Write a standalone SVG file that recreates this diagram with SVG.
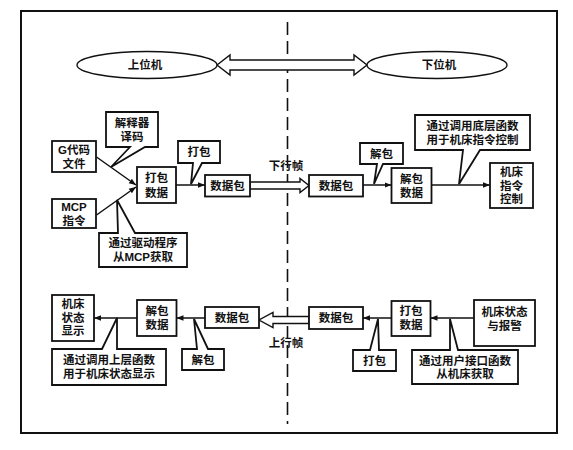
<svg xmlns="http://www.w3.org/2000/svg" width="573" height="450" viewBox="0 0 573 450">
<defs>
<style>
text{font-family:"Liberation Sans","Noto Sans CJK SC",sans-serif;font-size:11.5px;font-weight:bold;fill:#111;text-anchor:middle;dominant-baseline:central}
.box{fill:#fff;stroke:#111;stroke-width:1.8}
.ln{fill:none;stroke:#111;stroke-width:1.5}
.big{fill:#fff;stroke:#111;stroke-width:1.4}
</style>
<marker id="ah" viewBox="0 0 10 10" refX="10" refY="5" markerWidth="7" markerHeight="7" markerUnits="userSpaceOnUse" orient="auto">
<path d="M0,1 L10,5 L0,9 Z" fill="#111"/>
</marker>
</defs>
<rect x="21" y="11" width="536" height="422" fill="#fff" stroke="#111" stroke-width="2"/>
<line x1="287.5" y1="22" x2="287.5" y2="424" stroke="#111" stroke-width="1.6" stroke-dasharray="13 6"/>

<g id="connectors">
<path class="big" d="M217,65 L230,55 L230,60 L354,60 L354,55 L367,65 L354,75 L354,70 L230,70 L230,75 Z"/>
<path class="big" d="M250,182 L300,182 L300,178.5 L309,185.5 L300,192.5 L300,189 L250,189 Z"/>
<path class="big" d="M309,316.5 L273,316.5 L273,312.5 L259,320 L273,327.5 L273,323.5 L309,323.5 Z"/>
<line class="ln" x1="96.5" y1="157" x2="136" y2="185" marker-end="url(#ah)"/>
<line class="ln" x1="96.5" y1="215" x2="136" y2="187" marker-end="url(#ah)"/>
<line class="ln" x1="176" y1="185" x2="205" y2="185" marker-end="url(#ah)"/>
<line class="ln" x1="363" y1="185" x2="391.5" y2="185" marker-end="url(#ah)"/>
<line class="ln" x1="431.5" y1="185" x2="490" y2="185" marker-end="url(#ah)"/>
<line class="ln" x1="137" y1="318" x2="94" y2="318" marker-end="url(#ah)"/>
<line class="ln" x1="205" y1="318" x2="176.5" y2="318" marker-end="url(#ah)"/>
<line class="ln" x1="391.5" y1="318" x2="363" y2="318" marker-end="url(#ah)"/>
<line class="ln" x1="474" y1="318" x2="430.5" y2="318" marker-end="url(#ah)"/>
</g>

<g id="upper-host">
<ellipse cx="147" cy="65" rx="70" ry="13.5" fill="#fff" stroke="#111" stroke-width="1.4"/>
<text x="145" y="65" font-size="13">上位机</text>
</g>
<g id="lower-host">
<ellipse cx="437" cy="65" rx="70" ry="13.5" fill="#fff" stroke="#111" stroke-width="1.4"/>
<text x="439" y="65" font-size="13">下位机</text>
</g>

<g id="gcode"><rect class="box" x="52" y="141" width="44" height="31"/><text x="74" y="150">G代码</text><text x="74" y="164">文件</text></g>
<g id="mcp"><rect class="box" x="52" y="199" width="44" height="29"/><text x="74" y="207">MCP</text><text x="74" y="221">指令</text></g>
<g id="interp"><path class="box" d="M106,112 H158 V147 H145 L111,167 L130,147 H106 Z"/><text x="132" y="123">解释器</text><text x="132" y="137">译码</text></g>
<g id="drv"><path class="box" d="M99,233 H118 L117,200 L135,233 H187 V267 H99 Z"/><text x="143" y="243">通过驱动程序</text><text x="143" y="257">从MCP获取</text></g>
<g id="pack1"><rect class="box" x="137" y="167" width="39" height="36"/><text x="156.5" y="178">打包</text><text x="156.5" y="193">数据</text></g>
<g id="packlbl1"><path class="box" d="M178,141 H220 V163 H202 L191,184 L193,163 H178 Z"/><text x="199" y="152">打包</text></g>
<g id="pkt1"><rect class="box" x="205" y="175" width="45" height="21.5"/><text x="227.5" y="185.5">数据包</text></g>
<text x="286" y="166" font-size="11" font-weight="normal">下行帧</text>
<g id="pkt2"><rect class="box" x="309" y="175" width="54" height="21.5"/><text x="336" y="185.5">数据包</text></g>
<g id="unpacklbl1"><path class="box" d="M360,143 H403 V164 H383 L374,184 L377,164 H360 Z"/><text x="381.5" y="153.5">解包</text></g>
<g id="unpack1"><rect class="box" x="391.5" y="168" width="40" height="35"/><text x="411.5" y="178.5">解包</text><text x="411.5" y="193">数据</text></g>
<g id="lowfn"><path class="box" d="M415,115 H530 V150 H480 L459,184 L463,150 H415 Z"/><text x="472.5" y="126">通过调用底层函数</text><text x="472.5" y="140">用于机床指令控制</text></g>
<g id="ctrl"><rect class="box" x="490" y="163" width="43" height="45"/><text x="511.5" y="172">机床</text><text x="511.5" y="185.5">指令</text><text x="511.5" y="199">控制</text></g>

<g id="disp"><rect class="box" x="52" y="295" width="42" height="46"/><text x="73" y="304">机床</text><text x="73" y="317.5">状态</text><text x="73" y="331">显示</text></g>
<g id="unpack2"><rect class="box" x="137" y="300" width="39.5" height="36"/><text x="157" y="311">解包</text><text x="157" y="325">数据</text></g>
<g id="upfn"><path class="box" d="M52,349 H102 L117,318 V349 H166 V385 H52 Z"/><text x="109" y="360">通过调用上层函数</text><text x="109" y="374">用于机床状态显示</text></g>
<g id="pkt3"><rect class="box" x="205" y="307" width="54" height="21"/><text x="232" y="317.5">数据包</text></g>
<g id="unpacklbl2"><path class="box" d="M182,349 H197 L194,319 L208,349 H224 V370 H182 Z"/><text x="203" y="360">解包</text></g>
<text x="286" y="343" font-size="11" font-weight="normal">上行帧</text>
<g id="pkt4"><rect class="box" x="309" y="307" width="54" height="22"/><text x="336" y="318">数据包</text></g>
<g id="pack2"><rect class="box" x="391.5" y="301" width="39" height="35"/><text x="411" y="311">打包</text><text x="411" y="325">数据</text></g>
<g id="packlbl2"><path class="box" d="M353,350 H370 L378,319 L379,350 H396 V371 H353 Z"/><text x="374.5" y="360.5">打包</text></g>
<g id="userfn"><path class="box" d="M412,350 H450 L450,319 L458,350 H518 V384 H412 Z"/><text x="465" y="361">通过用户接口函数</text><text x="465" y="374">从机床获取</text></g>
<g id="status"><rect class="box" x="474" y="300" width="61" height="46"/><text x="504.5" y="312">机床状态</text><text x="504.5" y="326">与报警</text></g>
</svg>
